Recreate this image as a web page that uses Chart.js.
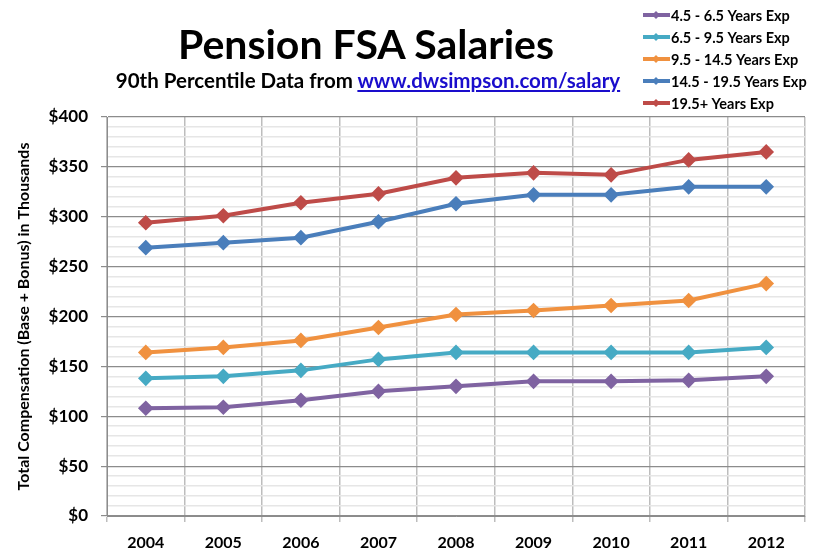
<!DOCTYPE html>
<html>
<head>
<meta charset="utf-8">
<script src="https://cdn.jsdelivr.net/npm/chart.js@4"></script>
<style>
  body { margin: 0; background: #fff; font-family: Lato, sans-serif; }
  #wrap { position: relative; width: 817px; height: 550px; }
  #title { position: absolute; left: 0; width: 732px; top: 19px; text-align: center; font-weight: bold; font-size: 41px; color: #000; }
  #sub { position: absolute; left: 0; width: 736px; top: 68px; text-align: center; font-weight: bold; font-size: 20.5px; color: #000; }
  #sub a { color: #1a0dcc; text-decoration: underline; }
  canvas { position: absolute; left: 0; top: 0; }
</style>
</head>
<body>
<div id="wrap">
  <canvas id="chart" width="817" height="550"></canvas>
  <div id="title">Pension FSA Salaries</div>
  <div id="sub">90th Percentile Data from <a href="#">www.dwsimpson.com/salary</a></div>
</div>
<script>
const years = ["2004", "2005", "2006", "2007", "2008", "2009", "2010", "2011", "2012"];
const exp45 = [108, 109, 116, 125, 130, 135, 135, 136, 140];
const exp65 = [138, 140, 146, 157, 164, 164, 164, 164, 169];
const exp95 = [164, 169, 176, 189, 202, 206, 211, 216, 233];
const exp145 = [269, 274, 279, 295, 313, 322, 322, 330, 330];
const exp195 = [294, 301, 314, 323, 339, 344, 342, 357, 365];
const seriesNames = ["4.5 - 6.5 Years Exp", "6.5 - 9.5 Years Exp", "9.5 - 14.5 Years Exp", "14.5 - 19.5 Years Exp", "19.5+ Years Exp"];
const colors = ["#7f63a1", "#46aac4", "#f0913f", "#4a7ebb", "#be4b48"];

const font = "Lato, sans-serif";

function ds(i, data) {
  return {
    label: seriesNames[i],
    data: data,
    borderColor: colors[i],
    backgroundColor: colors[i],
    borderWidth: 4,
    pointStyle: "rectRot",
    pointRadius: 5,
    pointHoverRadius: 5,
    tension: 0,
  };
}

// legend drawn top-right like the original
const sideLegend = {
  id: "sideLegend",
  afterDraw(chart) {
    const ctx = chart.ctx;
    ctx.save();
    ctx.font = "bold 14.5px " + font;
    ctx.textBaseline = "middle";
    chart.data.datasets.forEach((d, i) => {
      const y = 15 + i * 22;
      ctx.strokeStyle = d.borderColor;
      ctx.lineWidth = 4;
      ctx.beginPath();
      ctx.moveTo(643, y);
      ctx.lineTo(670, y);
      ctx.stroke();
      ctx.fillStyle = d.borderColor;
      ctx.beginPath();
      ctx.moveTo(656, y - 4);
      ctx.lineTo(660, y);
      ctx.lineTo(656, y + 4);
      ctx.lineTo(652, y);
      ctx.closePath();
      ctx.fill();
      ctx.fillStyle = "#000";
      ctx.fillText(d.label, 671, y + 1);
    });
    ctx.restore();
  },
};

new Chart(document.getElementById("chart"), {
  type: "line",
  data: {
    labels: years,
    datasets: [ds(0, exp45), ds(1, exp65), ds(2, exp95), ds(3, exp145), ds(4, exp195)],
  },
  options: {
    responsive: false,
    animation: false,
    layout: { padding: { top: 117, right: 12, left: 0, bottom: 0 } },
    plugins: { legend: { display: false }, tooltip: { enabled: false } },
    scales: {
      x: {
        offset: true,
        grid: { offset: true, color: "#bdbdbd", lineWidth: 1.5, tickLength: 6 },
        border: { color: "#8c8c8c" },
        ticks: { color: "#000", font: { family: font, weight: "bold", size: 16 }, padding: 11 },
        afterFit(s) { s.height = 34; },
      },
      y: {
        min: 0,
        max: 400,
        grid: {
          color: (c) => (c.tick.value % 50 === 0 ? "#8c8c8c" : "#e6e6e6"),
          lineWidth: (c) => (c.tick.value % 50 === 0 ? 1.2 : 1.5),
          tickColor: (c) => (c.tick.value % 50 === 0 ? "#8c8c8c" : "rgba(0,0,0,0)"),
          tickLength: 6,
        },
        border: { color: "#8c8c8c" },
        ticks: {
          stepSize: 10,
          autoSkip: false,
          color: "#000",
          padding: 13,
          font: { family: font, weight: "bold", size: 17 },
          callback: (v) => (v % 50 === 0 ? "$" + v : ""),
        },
        title: {
          display: true,
          text: "Total Compensation (Base + Bonus) in Thousands",
          color: "#000",
          font: { family: font, weight: "bold", size: 16 },
          padding: { top: 14, bottom: 0 },
        },
        afterFit(s) { s.width = 107; },
      },
    },
  },
  plugins: [sideLegend],
});
</script>
</body>
</html>
